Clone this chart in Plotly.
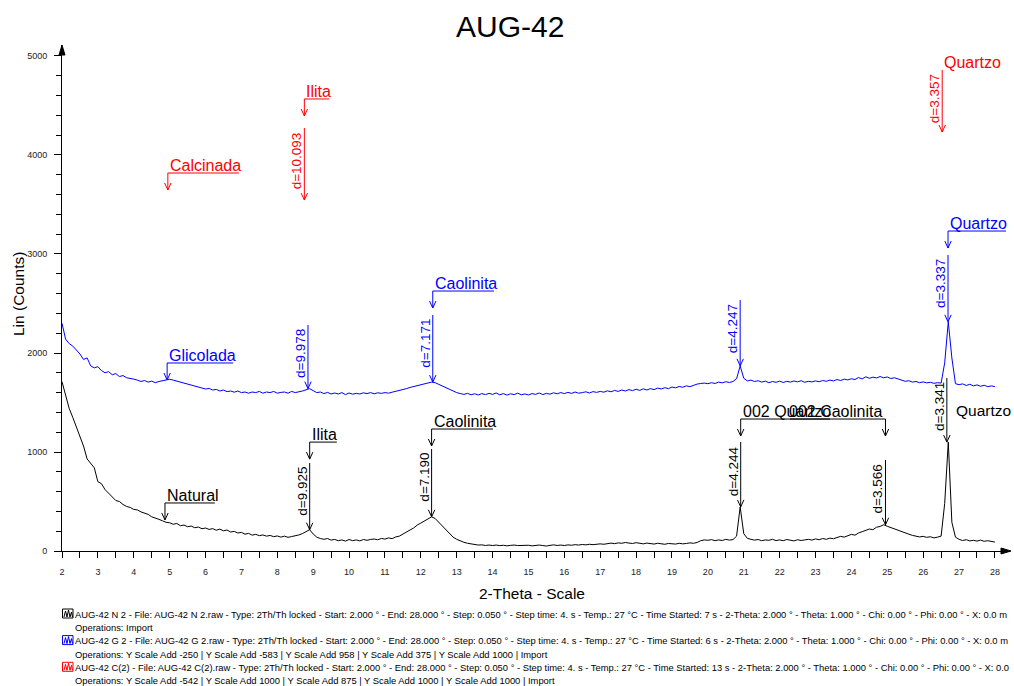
import numpy as np
import plotly.graph_objects as go

# ---------------------------------------------------------------------------
# Diffractograms of sample AUG-42 (Cu K-alpha), 2-theta sampled every 0.1 deg
# ---------------------------------------------------------------------------
two_theta = np.round(np.linspace(2.0, 28.0, 261), 1)

natural_counts = [
    1710, 1580, 1440, 1350, 1250, 1150, 1060, 930, 880, 840,
    700, 680, 620, 580, 540, 510, 500, 470, 450, 440,
    420, 415, 395, 380, 370, 345, 335, 320, 305, 290,
    285, 270, 278, 255, 262, 245, 252, 235, 242, 225,
    232, 218, 226, 210, 221, 204, 212, 192, 198, 182,
    188, 170, 178, 160, 168, 155, 162, 150, 157, 145,
    152, 140, 150, 138, 146, 152, 162, 176, 195, 215,
    172, 140, 126, 118, 126, 110, 117, 104, 112, 100,
    116, 104, 112, 102, 116, 108, 117, 121, 113, 127,
    120, 132, 125, 142, 150, 168, 190, 212, 232, 262,
    282, 302, 326, 345, 328, 290, 248, 208, 170, 140,
    118, 100, 88, 78, 70, 64, 60, 62, 56, 60,
    55, 60, 54, 58, 52, 57, 60, 55, 58, 54,
    58, 52, 56, 60, 55, 50, 57, 62, 56, 60,
    55, 62, 58, 64, 60, 66, 62, 68, 64, 70,
    72, 68, 76, 80, 74, 82, 78, 86, 80, 76,
    84, 78, 72, 80, 74, 70, 78, 72, 68, 76,
    74, 70, 78, 72, 76, 82, 78, 86, 104, 112,
    108, 115, 104, 112, 106, 118, 110, 115, 150, 445,
    175, 128, 118, 110, 116, 104, 112, 108, 118, 105,
    112, 104, 116, 108, 102, 114, 106, 112, 118, 110,
    122, 114, 126, 118, 130, 124, 136, 148, 140, 158,
    168, 160, 182, 195, 205, 222, 215, 240, 248, 265,
    250, 236, 222, 210, 190, 176, 170, 158, 150, 142,
    148, 138, 144, 132, 140, 150, 480, 1100, 290, 140,
    118, 106, 114, 102, 108, 100, 110, 98, 104, 94,
    90,
]

glicolada_counts = [
    2300, 2140, 2095, 2070, 2030, 1990, 1935, 1950, 1870, 1850,
    1862, 1822, 1800, 1812, 1780, 1792, 1762, 1772, 1750, 1745,
    1736, 1726, 1712, 1722, 1706, 1716, 1700, 1712, 1722, 1728,
    1735, 1726, 1716, 1708, 1694, 1686, 1680, 1666, 1660, 1646,
    1636, 1642, 1626, 1632, 1616, 1626, 1610, 1616, 1604, 1616,
    1600, 1606, 1594, 1606, 1600, 1612, 1594, 1606, 1600, 1612,
    1594, 1602, 1606, 1594, 1612, 1600, 1606, 1616, 1628, 1640,
    1620, 1600, 1606, 1590, 1602, 1586, 1596, 1586, 1600, 1580,
    1596, 1584, 1592, 1586, 1598, 1590, 1600, 1588, 1598, 1592,
    1600, 1594, 1604, 1612, 1620, 1628, 1640, 1652, 1660, 1672,
    1680, 1690, 1696, 1706, 1700, 1682, 1666, 1650, 1630, 1614,
    1600, 1590, 1582, 1592, 1578, 1588, 1576, 1590, 1580, 1592,
    1582, 1596, 1578, 1590, 1574, 1588, 1580, 1594, 1578, 1586,
    1576, 1590, 1582, 1596, 1580, 1592, 1584, 1598, 1588, 1600,
    1590, 1602, 1592, 1606, 1594, 1600, 1608, 1596, 1610, 1602,
    1612, 1604, 1618, 1608, 1622, 1612, 1626, 1616, 1630, 1620,
    1634, 1622, 1638, 1626, 1640, 1630, 1646, 1636, 1650, 1640,
    1656, 1648, 1662, 1654, 1668, 1660, 1674, 1686, 1692, 1696,
    1690, 1700, 1692, 1706, 1698, 1710, 1702, 1712, 1740, 1870,
    1745, 1718, 1726, 1712, 1720, 1706, 1716, 1700, 1712, 1704,
    1716, 1702, 1714, 1706, 1718, 1708, 1720, 1704, 1714, 1708,
    1718, 1710, 1722, 1714, 1726, 1718, 1732, 1722, 1736, 1728,
    1740, 1732, 1752, 1738, 1760, 1744, 1756, 1748, 1762, 1750,
    1758, 1742, 1750, 1736, 1722, 1714, 1720, 1706, 1712, 1700,
    1708, 1698, 1704, 1694, 1700, 1696, 1900, 2315, 1950, 1690,
    1680, 1688, 1672, 1684, 1668, 1678, 1664, 1674, 1660, 1668,
    1660,
]

# d-spacings (Angstrom) picked on each pattern
natural_d = [9.925, 7.190, 4.244, 3.566, 3.341]
glicolada_d = [9.978, 7.171, 4.247, 3.337]
calcinada_d = [10.093, 3.357]
# intensities of the calcined picks (its trace lies outside the window)
calcinada_pick_counts = [3545, 4232]

WAVELENGTH = 1.5406  # Cu K-alpha1


def bragg_two_theta(d):
    return float(2 * np.degrees(np.arcsin(WAVELENGTH / (2 * d))))


# ---------------------------------------------------------------------------
# Frame geometry
# ---------------------------------------------------------------------------
W, H = 1014, 686
ML, MR, MT, MB = 62, 4, 45, 135
X_RANGE = [2.0, 28.42]
Y_RANGE = [0, 5111]
PW, PH = W - ML - MR, H - MT - MB
DEG_PER_PX = (X_RANGE[1] - X_RANGE[0]) / PW
CNT_PER_PX = (Y_RANGE[1] - Y_RANGE[0]) / PH

BLACK, BLUE, RED = "#000000", "#0000ff", "#ff0000"
FONT = "Liberation Sans, Arial, sans-serif"

shapes = []
annotations = []


def seg(x0, y0, x1, y1, color):
    shapes.append(dict(type="line", xref="x", yref="y", x0=x0, y0=y0, x1=x1, y1=y1,
                       line=dict(color=color, width=1)))


def arrow_down(x, y_top, y_tip, color):
    seg(x, y_top, x, y_tip, color)
    hx, hy = 3.2 * DEG_PER_PX, 7 * CNT_PER_PX
    seg(x - hx, y_tip + hy, x, y_tip, color)
    seg(x + hx, y_tip + hy, x, y_tip, color)


def peak_top(x, counts):
    c = np.asarray(counts)
    m = np.abs(two_theta - x) <= 0.1
    return float(c[m].max())


def d_pick(d, y_top, y_tip, color):
    x = bragg_two_theta(d)
    arrow_down(x, y_top, y_tip, color)
    annotations.append(dict(x=x, y=y_top, xref="x", yref="y", text=f"d={d:.3f}",
                            textangle=-90, showarrow=False, xanchor="right", yanchor="top",
                            xshift=2, yshift=-2, font=dict(family=FONT, size=13.5, color=color)))


def phase_label(text, x, y_line, x_other, color, side="left"):
    # underlined label with a short leader down to the reflection
    seg(min(x, x_other), y_line, max(x, x_other), y_line, color)
    arrow_down(x, y_line, y_line - 17 * CNT_PER_PX, color)
    annotations.append(dict(x=x, y=y_line, xref="x", yref="y", text=text, showarrow=False,
                            xanchor=side, yanchor="bottom", yshift=-3, xshift=0,
                            font=dict(family=FONT, size=16, color=color)))


# ---- Natural (black) ----
phase_label("Natural", 4.87, 485, 6.26, BLACK)
phase_label("Ilita", bragg_two_theta(9.925), 1100, 9.66, BLACK)
phase_label("Caolinita", bragg_two_theta(7.190), 1232, 14.01, BLACK)
phase_label("002 Quartzo", bragg_two_theta(4.244), 1333, 23.4, BLACK)
phase_label("002 Caolinita", bragg_two_theta(3.566), 1333, 22.29, BLACK, side="right")
for d, top in zip(natural_d, [889, 1030, 1101, 919, 1747]):
    d_pick(d, top, peak_top(bragg_two_theta(d), natural_counts), BLACK)
annotations.append(dict(x=26.97, y=1420, xref="x", yref="y", text="Quartzo", showarrow=False,
                        xanchor="left", yanchor="middle", xshift=-4,
                        font=dict(family=FONT, size=15.5, color=BLACK)))

# ---- Glicolada (blue) ----
phase_label("Glicolada", 4.93, 1899, 6.77, BLUE)
phase_label("Caolinita", bragg_two_theta(7.171), 2626, 14.04, BLUE)
phase_label("Quartzo", bragg_two_theta(3.337), 3232, 28.31, BLUE)
for d, top in zip(glicolada_d, [2283, 2384, 2535, 2990]):
    d_pick(d, top, peak_top(bragg_two_theta(d), glicolada_counts), BLUE)

# ---- Calcinada (red) ----
phase_label("Calcinada", 4.95, 3818, 6.93, RED)
phase_label("Ilita", bragg_two_theta(10.093), 4566, 9.45, RED)
for d, top, tip in zip(calcinada_d, [4273, 4859], calcinada_pick_counts):
    d_pick(d, top, tip, RED)
annotations.append(dict(x=bragg_two_theta(3.357), y=4859, xref="x", yref="y", text="Quartzo",
                        showarrow=False, xanchor="left", yanchor="bottom", yshift=-3,
                        font=dict(family=FONT, size=16, color=RED)))


# ---------------------------------------------------------------------------
# Axis arrowheads, titles and the scan-information footer (paper coordinates)
# ---------------------------------------------------------------------------
def px_x(px):
    return (px - ML) / PW


def px_y(py):
    return (H - MB - py) / PH


shapes.append(dict(type="path", xref="paper", yref="paper", fillcolor="black",
                   line=dict(color="black", width=1),
                   path=f"M {px_x(62)},{px_y(45)} L {px_x(59)},{px_y(55)} L {px_x(65)},{px_y(55)} Z"))
shapes.append(dict(type="path", xref="paper", yref="paper", fillcolor="black",
                   line=dict(color="black", width=1),
                   path=f"M {px_x(1011)},{px_y(551)} L {px_x(1001)},{px_y(548)} L {px_x(1001)},{px_y(554)} Z"))

annotations.append(dict(xref="paper", yref="paper", x=px_x(510), y=px_y(27), text="AUG-42",
                        showarrow=False, xanchor="center", yanchor="middle",
                        font=dict(family=FONT, size=30, color="black")))
annotations.append(dict(xref="paper", yref="paper", x=px_x(18), y=px_y(294), text="Lin (Counts)",
                        textangle=-90, showarrow=False, xanchor="center", yanchor="middle",
                        font=dict(family=FONT, size=15.5, color="black")))
annotations.append(dict(xref="paper", yref="paper", x=px_x(532), y=px_y(593), text="2-Theta - Scale",
                        showarrow=False, xanchor="center", yanchor="middle",
                        font=dict(family=FONT, size=15.5, color="black")))

footer_rows = [
    ("AUG-42 N 2 - File: AUG-42 N 2.raw - Type: 2Th/Th locked - Start: 2.000 ° - End: 28.000 ° - "
     "Step: 0.050 ° - Step time: 4. s - Temp.: 27 °C - Time Started: 7 s - 2-Theta: 2.000 ° - "
     "Theta: 1.000 ° - Chi: 0.00 ° - Phi: 0.00 ° - X: 0.0 m", BLACK),
    ("Operations: Import", None),
    ("AUG-42 G 2 - File: AUG-42 G 2.raw - Type: 2Th/Th locked - Start: 2.000 ° - End: 28.000 ° - "
     "Step: 0.050 ° - Step time: 4. s - Temp.: 27 °C - Time Started: 6 s - 2-Theta: 2.000 ° - "
     "Theta: 1.000 ° - Chi: 0.00 ° - Phi: 0.00 ° - X: 0.0 m", BLUE),
    ("Operations: Y Scale Add -250 | Y Scale Add -583 | Y Scale Add 958 | Y Scale Add 375 | "
     "Y Scale Add 1000 | Import", None),
    ("AUG-42 C(2) - File: AUG-42 C(2).raw - Type: 2Th/Th locked - Start: 2.000 ° - End: 28.000 ° - "
     "Step: 0.050 ° - Step time: 4. s - Temp.: 27 °C - Time Started: 13 s - 2-Theta: 2.000 ° - "
     "Theta: 1.000 ° - Chi: 0.00 ° - Phi: 0.00 ° - X: 0.0", RED),
    ("Operations: Y Scale Add -542 | Y Scale Add 1000 | Y Scale Add 875 | Y Scale Add 1000 | "
     "Y Scale Add 1000 | Import", None),
]
row_centres = [614, 627.3, 640.6, 654, 667.3, 680.3]
for (text, icon), yc in zip(footer_rows, row_centres):
    annotations.append(dict(xref="paper", yref="paper", x=px_x(74), y=px_y(yc), text=text,
                            showarrow=False, xanchor="left", yanchor="middle", align="left",
                            borderpad=0,
                            font=dict(family=FONT, size=9.4, color="black")))
    if icon:
        x0, x1, y0, y1 = 62.5, 73, yc - 5, yc + 4
        shapes.append(dict(type="rect", xref="paper", yref="paper",
                           x0=px_x(x0), x1=px_x(x1), y0=px_y(y1), y1=px_y(y0),
                           line=dict(color=icon, width=1)))
        zig = [(64, y1 - 1), (65.5, y0 + 2), (67, y1 - 1), (68.5, y0 + 1), (70, y1 - 1), (71.5, y0 + 3), (72.5, y1 - 1)]
        path = "M " + " L ".join(f"{px_x(a)},{px_y(b)}" for a, b in zig)
        shapes.append(dict(type="path", xref="paper", yref="paper", path=path,
                           line=dict(color=icon, width=1)))

# ---------------------------------------------------------------------------
fig = go.Figure()
fig.add_trace(go.Scatter(x=two_theta, y=natural_counts, mode="lines", name="Natural",
                         line=dict(color=BLACK, width=1), hoverinfo="skip"))
fig.add_trace(go.Scatter(x=two_theta, y=glicolada_counts, mode="lines", name="Glicolada",
                         line=dict(color=BLUE, width=1), hoverinfo="skip"))

axis_font = dict(family=FONT, size=9, color="#222222")
fig.update_layout(
    width=W, height=H,
    margin=dict(l=ML, r=MR, t=MT, b=MB, pad=0),
    paper_bgcolor="white", plot_bgcolor="white",
    showlegend=False,
    shapes=shapes, annotations=annotations,
    xaxis=dict(range=X_RANGE, showgrid=False, zeroline=False, showline=True,
               linecolor="black", linewidth=1, ticks="outside", ticklen=6, tickcolor="black",
               tickvals=list(range(2, 29)), tickfont=axis_font, ticklabelstandoff=6,
               minor=dict(tickvals=[v + 0.5 for v in range(2, 28)], ticks="outside",
                          ticklen=6, tickcolor="black")),
    yaxis=dict(range=Y_RANGE, showgrid=False, zeroline=False, showline=True,
               linecolor="black", linewidth=1, ticks="outside", ticklen=7, tickcolor="black",
               tickvals=list(range(0, 5001, 1000)), tickformat="d", tickfont=axis_font,
               ticklabelstandoff=5,
               minor=dict(dtick=200, tick0=0, ticks="outside", ticklen=5, tickcolor="black")),
)

fig.write_html("out.html")
